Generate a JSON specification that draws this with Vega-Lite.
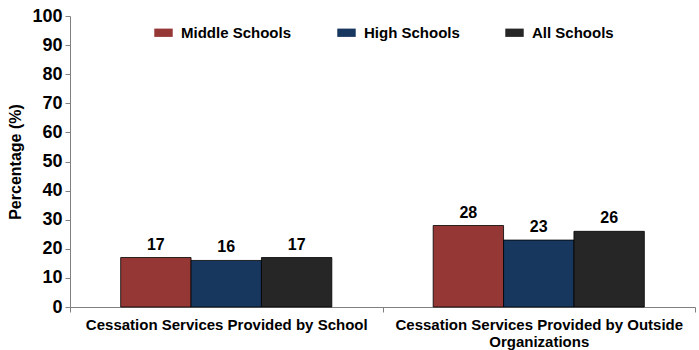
{
  "$schema": "https://vega.github.io/schema/vega-lite/v6.json",
  "autosize": {"type": "none"},
  "padding": {"left": 70, "top": 16, "right": 4, "bottom": 43},
  "width": 625,
  "height": 291,
  "background": "white",
  "config": {
    "font": "Liberation Sans",
    "view": {"stroke": null}
  },
  "data": {
    "values": [
      {"category": "Cessation Services Provided by School", "school": "Middle Schools", "value": 17},
      {"category": "Cessation Services Provided by School", "school": "High Schools", "value": 16},
      {"category": "Cessation Services Provided by School", "school": "All Schools", "value": 17},
      {"category": "Cessation Services Provided by Outside Organizations", "school": "Middle Schools", "value": 28},
      {"category": "Cessation Services Provided by Outside Organizations", "school": "High Schools", "value": 23},
      {"category": "Cessation Services Provided by Outside Organizations", "school": "All Schools", "value": 26}
    ]
  },
  "encoding": {
    "x": {
      "field": "category",
      "type": "nominal",
      "sort": null,
      "scale": {"paddingInner": 0, "paddingOuter": 0},
      "axis": {
        "title": null,
        "labelAngle": 0,
        "labelFont": "Liberation Sans",
        "labelFontWeight": "bold",
        "labelFontSize": 15,
        "labelColor": "black",
        "labelPadding": 5,
        "labelLimit": 400,
        "labelLineHeight": 17,
        "labelExpr": "datum.value == 'Cessation Services Provided by Outside Organizations' ? ['Cessation Services Provided by Outside', 'Organizations'] : datum.value",
        "tickBand": "extent",
        "tickSize": 5,
        "tickColor": "#808080",
        "domainColor": "#808080",
        "grid": false
      }
    },
    "xOffset": {
      "field": "school",
      "sort": ["Middle Schools", "High Schools", "All Schools"],
      "scale": {"paddingInner": 0, "paddingOuter": 0.72}
    },
    "y": {
      "field": "value",
      "type": "quantitative",
      "scale": {"domain": [0, 100], "nice": false},
      "axis": {
        "title": "Percentage (%)",
        "titleFont": "Liberation Sans",
        "titleFontWeight": "bold",
        "titleFontSize": 16,
        "titleColor": "black",
        "titlePadding": 8,
        "values": [0, 10, 20, 30, 40, 50, 60, 70, 80, 90, 100],
        "labelFont": "Liberation Sans",
        "labelFontWeight": "bold",
        "labelFontSize": 18,
        "labelColor": "black",
        "labelPadding": 3,
        "tickSize": 5,
        "tickColor": "#808080",
        "domainColor": "#808080",
        "grid": false
      }
    }
  },
  "layer": [
    {
      "mark": {"type": "bar", "stroke": "black", "strokeWidth": 0.8},
      "encoding": {
        "color": {
          "field": "school",
          "type": "nominal",
          "sort": ["Middle Schools", "High Schools", "All Schools"],
          "scale": {
            "domain": ["Middle Schools", "High Schools", "All Schools"],
            "range": ["#953735", "#17375E", "#262626"]
          },
          "legend": {
            "title": null,
            "orient": "none",
            "legendX": 84,
            "legendY": 7,
            "direction": "horizontal",
            "symbolType": "M-1,-0.45H1V0.45H-1Z",
            "symbolSize": 340,
            "symbolStrokeWidth": 0,
            "labelFont": "Liberation Sans",
            "labelFontWeight": "bold",
            "labelFontSize": 15,
            "labelColor": "black",
            "columnPadding": 45,
            "labelOffset": 8
          }
        }
      }
    },
    {
      "mark": {"type": "text", "dy": -13, "font": "Liberation Sans", "fontWeight": "bold", "fontSize": 16, "color": "black"},
      "encoding": {
        "text": {"field": "value", "type": "quantitative"}
      }
    }
  ]
}
